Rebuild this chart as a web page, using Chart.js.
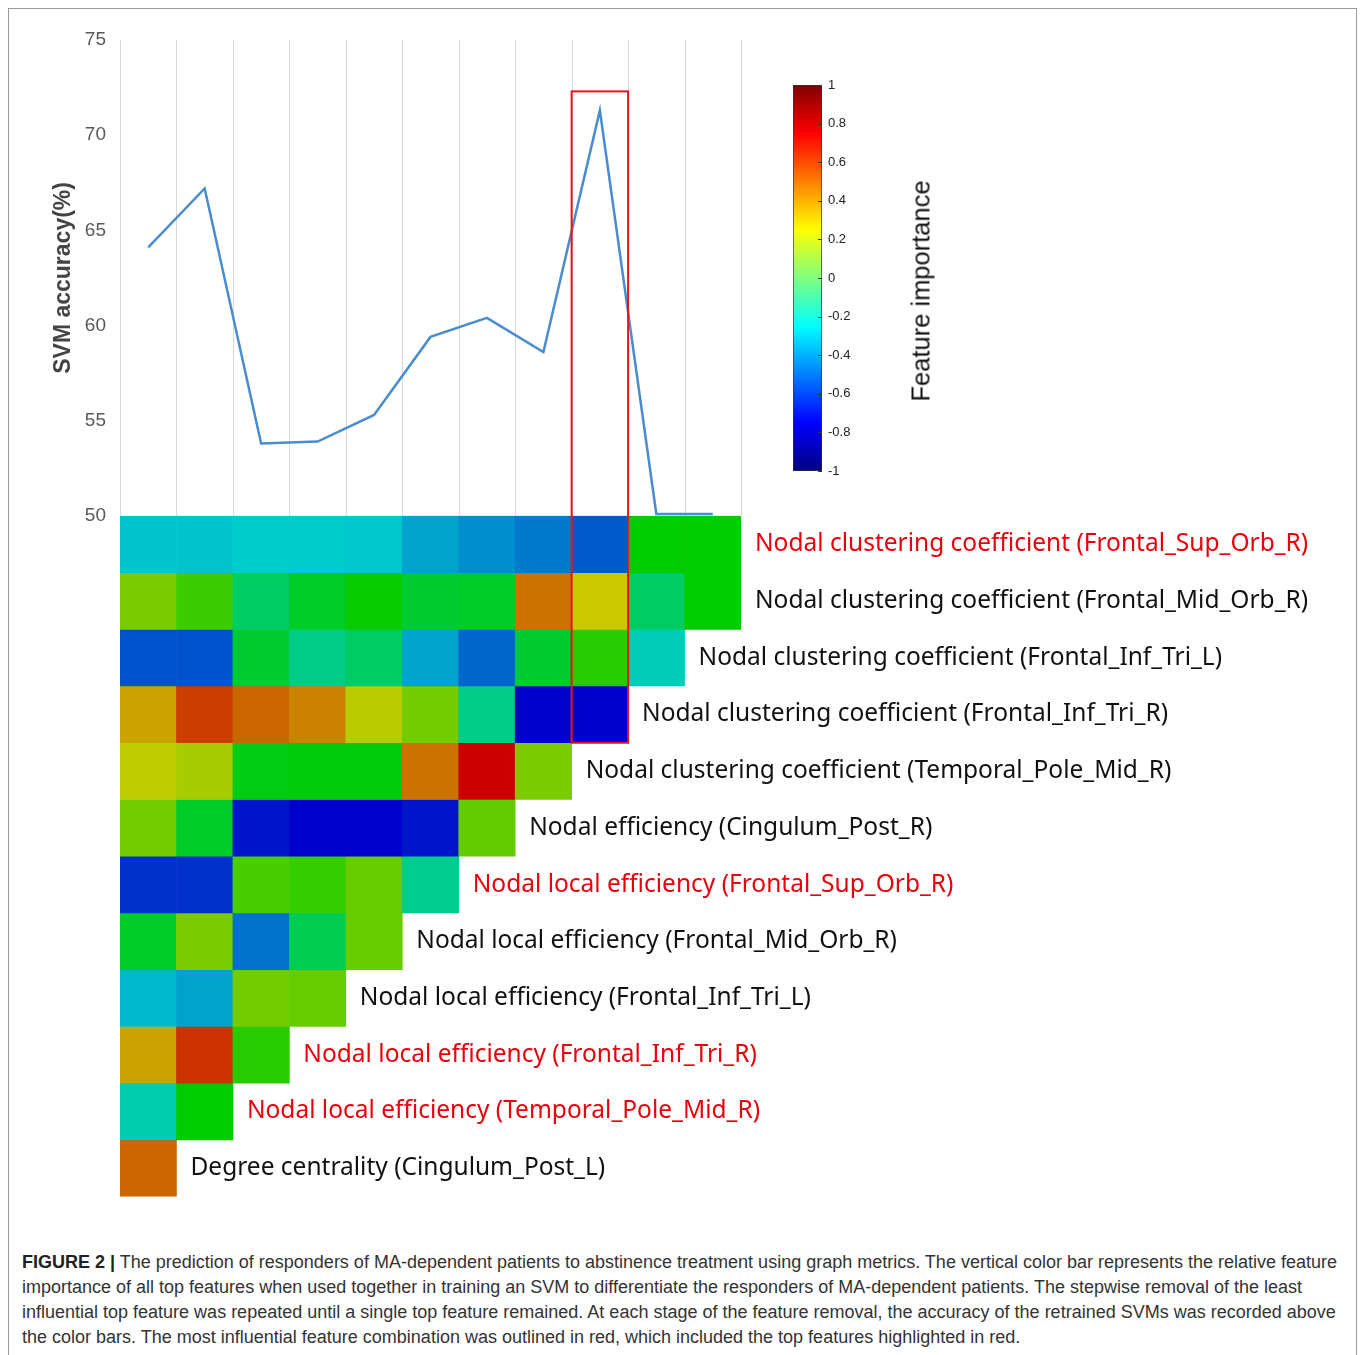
<!DOCTYPE html>
<html>
<head>
<meta charset="utf-8">
<script src="https://cdn.jsdelivr.net/npm/chart.js@4.4.1/dist/chart.umd.min.js"></script>
<style>
  html, body { margin: 0; padding: 0; background: #fff; overflow: hidden; }
  body { width: 1360px; height: 1355px; position: relative; }
  #frame { position: absolute; left: 8px; top: 8px; width: 1349px; height: 1400px; border: 1px solid #9a9a9a; box-sizing: border-box; }
  #main { position: absolute; left: 0; top: 0; }
  #bar { position: absolute; left: 780px; top: 60px; }
  #barTitle { position: absolute; left: 921px; top: 291px; transform: translate(-50%, -50%) rotate(-90deg);
    font: 25.5px "Liberation Sans", Arial, sans-serif; color: #111; white-space: nowrap; }
  #caption { position: absolute; left: 22px; top: 1250px; font: 18px "Liberation Sans", Arial, sans-serif;
    line-height: 25px; color: #333; white-space: nowrap; }
  #caption b { color: #222; }
</style>
</head>
<body>
<div id="frame"></div>
<canvas id="main" width="1360" height="1222"></canvas>
<canvas id="bar" width="90" height="430"></canvas>
<div id="barTitle">Feature importance</div>
<div id="caption">
  <div><b>FIGURE 2 |</b> The prediction of responders of MA-dependent patients to abstinence treatment using graph metrics. The vertical color bar represents the relative feature</div>
  <div>importance of all top features when used together in training an SVM to differentiate the responders of MA-dependent patients. The stepwise removal of the least</div>
  <div>influential top feature was repeated until a single top feature remained. At each stage of the feature removal, the accuracy of the retrained SVMs was recorded above</div>
  <div>the color bars. The most influential feature combination was outlined in red, which included the top features highlighted in red.</div>
</div>
<script>
// stages of stepwise removal (x), accuracy of the retrained SVM at each stage
const stages = ['1', '2', '3', '4', '5', '6', '7', '8', '9', '10', '11'];
const accuracy = [64.1, 67.2, 53.8, 53.9, 55.3, 59.4, 60.4, 58.6, 71.3, 50.1, 50.1];
const accuracyTicks = [50, 55, 60, 65, 70, 75];
const importanceTicks = [-1, -0.8, -0.6, -0.4, -0.2, 0, 0.2, 0.4, 0.6, 0.8, 1];

const features = [
  'Nodal clustering coefficient (Frontal_Sup_Orb_R)',
  'Nodal clustering coefficient (Frontal_Mid_Orb_R)',
  'Nodal clustering coefficient (Frontal_Inf_Tri_L)',
  'Nodal clustering coefficient (Frontal_Inf_Tri_R)',
  'Nodal clustering coefficient (Temporal_Pole_Mid_R)',
  'Nodal efficiency (Cingulum_Post_R)',
  'Nodal local efficiency (Frontal_Sup_Orb_R)',
  'Nodal local efficiency (Frontal_Mid_Orb_R)',
  'Nodal local efficiency (Frontal_Inf_Tri_L)',
  'Nodal local efficiency (Frontal_Inf_Tri_R)',
  'Nodal local efficiency (Temporal_Pole_Mid_R)',
  'Degree centrality (Cingulum_Post_L)'
];
const highlighted = [true, false, false, false, false, false, true, false, false, true, true, false];

// feature importance per feature (row) and stage (column)
const importance = [
  [-0.52, -0.52, -0.5, -0.5, -0.51, -0.6, -0.65, -0.7, -0.78, 0, 0],
  [0.3, 0.15, -0.25, -0.1, 0.02, -0.12, -0.1, 0.72, 0.51, -0.25, 0],
  [-0.8, -0.8, -0.12, -0.33, -0.25, -0.6, -0.75, -0.12, 0.1, -0.45],
  [0.6, 0.85, 0.75, 0.68, 0.45, 0.28, -0.33, -1, -1],
  [0.46, 0.41, -0.05, -0.03, -0.03, 0.72, 1, 0.3],
  [0.28, -0.1, -0.95, -1, -1, -0.95, 0.24],
  [-0.88, -0.88, 0.18, 0.13, 0.25, -0.35],
  [-0.1, 0.3, -0.72, -0.2, 0.25],
  [-0.55, -0.6, 0.28, 0.25],
  [0.6, 0.88, 0.1],
  [-0.43, 0],
  [0.75]
];
const bestStage = 8;

const jetStops = [[0, '#000080'], [0.125, '#0000ff'], [0.375, '#00ffff'], [0.625, '#ffff00'], [0.875, '#ff0000'], [1, '#800000']];

function cellColor(v) {
  return `hsl(${120 - 120 * v}, 100%, 40%)`;
}

const heatSets = importance.map((row, i) => ({
  type: 'bar',
  yAxisID: 'yh',
  grouped: false,
  barPercentage: 1,
  categoryPercentage: 1,
  borderWidth: 0,
  data: row.map(() => [i, i + 1]),
  backgroundColor: row.map(cellColor)
}));

const decor = {
  id: 'decor',
  beforeDatasetsDraw(chart) {
    const { ctx, scales: { x, y } } = chart;
    const half = (x.getPixelForValue(1) - x.getPixelForValue(0)) / 2;
    ctx.save();
    ctx.strokeStyle = '#d9d9d9';
    ctx.lineWidth = 1;
    for (let k = 0; k <= stages.length; k++) {
      const px = Math.round(x.getPixelForValue(k) - half) + 0.5;
      ctx.beginPath();
      ctx.moveTo(px, y.top);
      ctx.lineTo(px, y.bottom);
      ctx.stroke();
    }
    ctx.restore();
  },
  afterDatasetsDraw(chart) {
    const { ctx, scales: { x, y, yh } } = chart;
    const half = (x.getPixelForValue(1) - x.getPixelForValue(0)) / 2;
    ctx.save();
    ctx.font = '24.5px "Noto Sans"';
    ctx.textBaseline = 'middle';
    features.forEach((name, i) => {
      const n = importance[i].length;
      ctx.fillStyle = highlighted[i] ? '#e8000b' : '#111';
      ctx.fillText(name, x.getPixelForValue(n - 1) + half + 14, yh.getPixelForValue(i + 0.5));
    });
    // best feature combination
    const left = x.getPixelForValue(bestStage) - half;
    const top = y.getPixelForValue(accuracy[bestStage] + 1);
    const bottom = yh.getPixelForValue(importance.filter(r => r.length > bestStage).length);
    ctx.strokeStyle = '#e8141b';
    ctx.lineWidth = 2;
    ctx.strokeRect(left, top, half * 2, bottom - top);
    ctx.restore();
  }
};

new Chart(document.getElementById('main'), {
  type: 'bar',
  data: {
    labels: stages,
    datasets: [
      {
        type: 'line',
        yAxisID: 'y',
        data: accuracy,
        borderColor: '#4a8cd0',
        borderWidth: 2.5,
        pointRadius: 0,
        tension: 0,
        clip: false
      },
      ...heatSets
    ]
  },
  options: {
    responsive: false,
    animation: false,
    layout: { padding: { top: 40, bottom: 1, left: 0, right: 619 } },
    plugins: { legend: { display: false }, tooltip: { enabled: false } },
    scales: {
      x: { type: 'category', display: false, offset: true, grid: { display: false } },
      yh: {
        type: 'linear', position: 'left', stack: 'fig', stackWeight: 681,
        min: 0, max: 12, reverse: true,
        ticks: { display: false },
        grid: { display: false, drawTicks: false },
        border: { display: false },
        afterFit: s => { s.width = 120; }
      },
      y: {
        type: 'linear', position: 'left', stack: 'fig', stackWeight: 476,
        min: 50, max: 75,
        afterBuildTicks: s => { s.ticks = accuracyTicks.map(v => ({ value: v })); },
        ticks: { font: { family: 'Liberation Sans', size: 19 }, color: '#595959', padding: 14 },
        grid: { display: false, drawTicks: false },
        border: { display: false },
        title: {
          display: true, text: 'SVM accuracy(%)', color: '#444',
          font: { family: 'Liberation Sans', size: 23, weight: 'bold' },
          padding: { top: 50 }
        },
        afterFit: s => { s.width = 120; }
      }
    }
  },
  plugins: [decor]
});

const barTicks = {
  id: 'barTicks',
  afterDatasetsDraw(chart) {
    const { ctx, chartArea, scales: { y } } = chart;
    ctx.save();
    ctx.strokeStyle = '#333';
    ctx.lineWidth = 1;
    importanceTicks.forEach(v => {
      const py = Math.round(y.getPixelForValue(v)) + 0.5;
      ctx.beginPath();
      ctx.moveTo(chartArea.right - 4, py);
      ctx.lineTo(chartArea.right, py);
      ctx.stroke();
    });
    ctx.restore();
  }
};

new Chart(document.getElementById('bar'), {
  type: 'bar',
  data: {
    labels: [''],
    datasets: [{
      data: [[-1, 1]],
      barPercentage: 1,
      categoryPercentage: 1,
      borderWidth: 1,
      borderColor: '#333',
      borderSkipped: false,
      backgroundColor: (c) => {
        const area = c.chart.chartArea;
        if (!area) return '#fff';
        const g = c.chart.ctx.createLinearGradient(0, area.bottom, 0, area.top);
        jetStops.forEach(([t, col]) => g.addColorStop(t, col));
        return g;
      }
    }]
  },
  options: {
    responsive: false,
    animation: false,
    layout: { padding: { left: 13, top: 25, bottom: 19, right: 0 } },
    plugins: { legend: { display: false }, tooltip: { enabled: false } },
    scales: {
      x: { display: false },
      y: {
        position: 'right', min: -1, max: 1,
        afterBuildTicks: s => { s.ticks = importanceTicks.map(v => ({ value: v })); },
        ticks: { font: { family: 'Liberation Sans', size: 13 }, color: '#222', padding: 6, callback: v => String(+v.toFixed(1)) },
        grid: { display: false, drawTicks: false },
        border: { display: false },
        afterFit: s => { s.width = 48; }
      }
    }
  },
  plugins: [barTicks]
});
</script>
</body>
</html>
